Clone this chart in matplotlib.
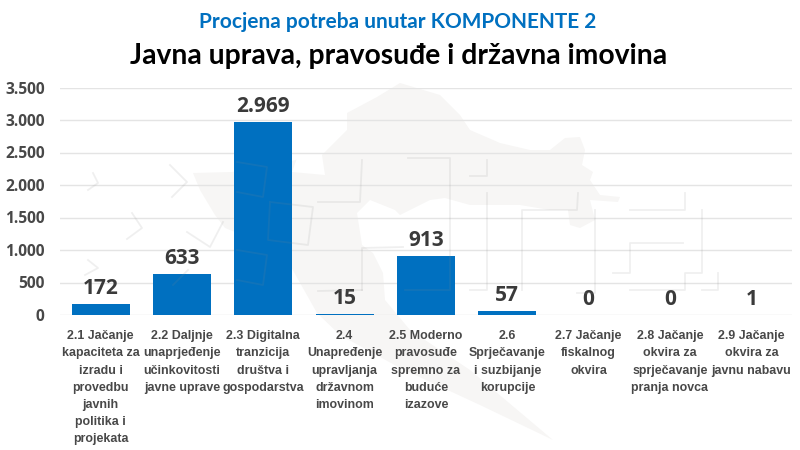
import matplotlib
matplotlib.use("Agg")
import matplotlib.pyplot as plt
from matplotlib.patches import Polygon

categories = [
    "2.1 Jačanje\nkapaciteta za\nizradu i\nprovedbu\njavnih\npolitika i\nprojekata",
    "2.2 Daljnje\nunaprjeđenje\nučinkovitosti\njavne uprave",
    "2.3 Digitalna\ntranzicija\ndruštva i\ngospodarstva",
    "2.4\nUnapređenje\nupravljanja\ndržavnom\nimovinom",
    "2.5 Moderno\npravosuđe\nspremno za\nbuduće\nizazove",
    "2.6\nSprječavanje\ni suzbijanje\nkorupcije",
    "2.7 Jačanje\nfiskalnog\nokvira",
    "2.8 Jačanje\nokvira za\nsprječavanje\npranja novca",
    "2.9 Jačanje\nokvira za\njavnu nabavu",
]
values = [172, 633, 2969, 15, 913, 57, 0, 0, 1]
y_ticks = [0, 500, 1000, 1500, 2000, 2500, 3000, 3500]

title_top = "Procjena potreba unutar KOMPONENTE 2"
title_main = "Javna uprava, pravosuđe i državna imovina"

# Watermark behind the chart, in image pixels
map_outline = [
    (193, 173), (232, 172), (280, 163), (322, 155), (347, 130), (347, 113),
    (377, 97), (400, 83), (440, 95), (460, 115), (470, 130), (500, 143),
    (530, 150), (550, 150), (565, 138), (580, 137), (585, 150), (582, 165),
    (593, 172), (590, 180), (600, 195), (620, 197), (618, 202), (590, 200),
    (595, 220), (580, 228), (570, 225), (568, 210), (550, 210), (520, 205),
    (470, 205), (445, 198), (430, 200), (400, 215), (395, 210), (370, 200),
    (357, 213), (362, 245), (373, 253), (383, 273), (385, 300), (410, 330),
    (470, 370), (553, 440), (480, 405), (400, 368), (340, 335), (317, 313),
    (290, 265), (265, 245), (235, 232), (225, 228), (215, 215), (200, 190),
]
map_gap = [(292, 172), (300, 150), (322, 155), (325, 175)]
wm_lines = [
    [(93, 173), (98, 183), (88, 190)],
    [(170, 165), (187, 182), (172, 197)],
    [(132, 213), (142, 228), (127, 239)],
    [(223, 222), (210, 247), (187, 232)],
    [(88, 260), (98, 268), (85, 275)],
    [(188, 270), (173, 285)],
    [(237, 162), (267, 167), (263, 197), (237, 192)],
    [(270, 202), (313, 207), (308, 245), (268, 240), (270, 202)],
    [(237, 250), (267, 255), (263, 285), (237, 280)],
    [(318, 202), (360, 202), (362, 160)],
    [(408, 158), (450, 158), (450, 290), (405, 290)],
    [(362, 290), (362, 248), (403, 247)],
    [(362, 290), (318, 291)],
    [(470, 176), (487, 176), (487, 160)],
    [(487, 193), (487, 290), (470, 290)],
    [(578, 193), (577, 210), (522, 210), (522, 290)],
    [(595, 210), (595, 293), (577, 293)],
    [(630, 210), (685, 210), (685, 193)],
    [(702, 210), (702, 273), (685, 273), (685, 290), (630, 290)],
    [(683, 243), (630, 243), (630, 273), (613, 273)],
    [(702, 290), (718, 290), (718, 273)],
]

plt.rcParams["font.family"] = "Open Sans"

fig = plt.figure(figsize=(8, 4.5), dpi=100, facecolor="white")

bg = fig.add_axes([0, 0, 1, 1], zorder=0)
bg.set_xlim(0, 800)
bg.set_ylim(450, 0)
bg.axis("off")
bg.add_patch(Polygon(map_outline, closed=True, fc="#f7f6f5", ec="none"))
bg.add_patch(Polygon(map_gap, closed=True, fc="white", ec="none"))

ax = fig.add_axes([60 / 800, 1 - 315 / 450, 732 / 800, 227.5 / 450], zorder=1)
ax.patch.set_alpha(0)

x = list(range(len(values)))
bars = ax.bar(x, values, width=0.715, color="#0070c0", zorder=2)
ax.bar_label(bars, labels=[f"{v:,}".replace(",", ".") for v in values],
             padding=3.5, fontsize=15, fontweight="bold", color="#3a3a3a")

ax.set_xlim(-0.5, 8.5)
ax.set_ylim(0, 3500)
ax.set_yticks(y_ticks)
ax.set_yticklabels([f"{v:,}".replace(",", ".") for v in y_ticks],
                   fontsize=11.2, fontweight="bold", color="#484848")
ax.set_xticks(x)
ax.set_xticklabels(categories, fontsize=8.9, fontweight="bold", color="#484848",
                   family="Liberation Sans", linespacing=1.57)
ax.tick_params(axis="both", length=0)
ax.tick_params(axis="x", pad=11)
ax.tick_params(axis="y", pad=11)
ax.grid(axis="y", color="#e4e4e4", linewidth=1, zorder=0)
ax.set_axisbelow(True)
for s in ax.spines.values():
    s.set_visible(False)

# Same watermark strokes show faintly over the bars
top = fig.add_axes([0, 0, 1, 1], zorder=2)
top.set_xlim(0, 800)
top.set_ylim(450, 0)
top.axis("off")
for pts in wm_lines:
    top.plot([p[0] for p in pts], [p[1] for p in pts], color="#8a8a8a",
             alpha=0.13, linewidth=1.3)

fig.text(398 / 800, 1 - 22 / 450, title_top, ha="center", va="center",
         fontsize=15, fontweight="bold", color="#0070c0", family="Lato")
fig.text(399 / 800, 1 - 56 / 450, title_main, ha="center", va="center",
         fontsize=20.3, fontweight="bold", color="black", family="Lato")

fig.savefig("out.png", dpi=100)
